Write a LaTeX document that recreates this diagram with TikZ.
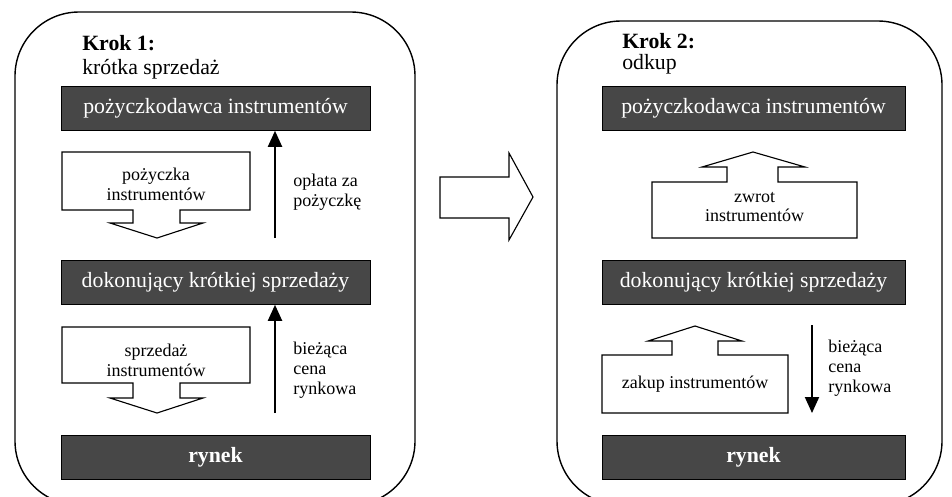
\documentclass[tikz,border=0pt]{standalone}
\usepackage{fontspec}
\setmainfont{Liberation Serif}
\usetikzlibrary{arrows.meta}
\definecolor{boxgray}{RGB}{71,71,71}
\newcommand{\partyfont}{\fontsize{15.5}{17}\selectfont}
\newcommand{\notefont}{\fontsize{12.8}{14}\selectfont}

\begin{document}
\begin{tikzpicture}[x = 0.025cm, y = -0.025cm,
    party/.style = {draw = black, fill = boxgray, text = white, font = \partyfont,
      minimum height = 1.1cm, inner sep = 0pt},
    flowtext/.style = {font = \notefont, align = center, inner sep = 0pt},
    note/.style = {font = \notefont, align = left, anchor = west, inner sep = 0pt},
    blockarrow/.style = {draw = black, fill = white, line width = 0.8pt},
    payment/.style = {line width = 1.4pt, -{Triangle[length = 4mm, width = 3.5mm]}}]
      \clip (0, 0) rectangle (952, 496);
      % frames
      \draw[line width = 1pt, rounded corners = 1.6cm] (15, 12) rectangle (415, 505);
      \draw[line width = 1pt, rounded corners = 1.6cm] (557, 21) rectangle (942, 505);
      % step 1: short sale
      \node[anchor = base west, font = \partyfont\bfseries, inner sep = 0pt] (step1) at (82, 50) {Krok 1:};
      \node[anchor = base west, font = \partyfont, inner sep = 0pt] (title1) at (82, 74) {krótka sprzedaż};
      \node[party, minimum width = 7.725cm] (lender1) at (215.5, 108.5) {pożyczkodawca instrumentów};
      \node[party, minimum width = 7.725cm] (seller1) at (215.5, 282.5) {dokonujący krótkiej sprzedaży};
      \node[party, minimum width = 7.725cm, font = \partyfont\bfseries] (market1) at (215.5, 457.5) {rynek};
      \draw[blockarrow] (62, 152) -- (250, 152) -- (250, 210) -- (180, 210) -- (180, 223)
        -- (203, 223) -- (157, 238) -- (110, 223) -- (133, 223) -- (133, 210) -- (62, 210) -- cycle;
      \node[flowtext] (loan1) at (156, 184) {pożyczka\\instrumentów};
      \draw[blockarrow] (62, 327) -- (250, 327) -- (250, 383) -- (180, 383) -- (180, 398)
        -- (203, 398) -- (157, 413) -- (110, 398) -- (133, 398) -- (133, 383) -- (62, 383) -- cycle;
      \node[flowtext] (sale1) at (156, 360) {sprzedaż\\instrumentów};
      \coordinate (feestart) at (275, 238);
      \draw[payment] (feestart) -- (feestart |- lender1.south);
      \node[note] (fee1) at (293, 192) {opłata za\\pożyczkę};
      \coordinate (pricestart) at (275, 413);
      \draw[payment] (pricestart) -- (pricestart |- seller1.south);
      \node[note] (price1) at (293, 370) {bieżąca\\cena\\rynkowa};
      % transition
      \draw[blockarrow] (440, 177) -- (509, 177) -- (509, 153) -- (533, 197) -- (509, 240)
        -- (509, 218) -- (440, 218) -- cycle;
      % step 2: buy back
      \node[anchor = base west, font = \partyfont\bfseries, inner sep = 0pt] (step2) at (622, 48) {Krok 2:};
      \node[anchor = base west, font = \partyfont, inner sep = 0pt] (title2) at (622, 69) {odkup};
      \node[party, minimum width = 7.575cm] (lender2) at (753.5, 108.5) {pożyczkodawca instrumentów};
      \node[party, minimum width = 7.575cm] (seller2) at (753.5, 282.5) {dokonujący krótkiej sprzedaży};
      \node[party, minimum width = 7.575cm, font = \partyfont\bfseries] (market2) at (753.5, 457.5) {rynek};
      \draw[blockarrow] (652, 238) -- (857, 238) -- (857, 182) -- (778, 182) -- (778, 167)
        -- (805, 167) -- (753, 152) -- (702, 167) -- (727, 167) -- (727, 182) -- (652, 182) -- cycle;
      \node[flowtext] (return2) at (754.5, 207) {zwrot\\instrumentów};
      \draw[blockarrow] (602, 413) -- (788, 413) -- (788, 355) -- (718, 355) -- (718, 341)
        -- (742, 341) -- (695, 326) -- (648, 341) -- (672, 341) -- (672, 355) -- (602, 355) -- cycle;
      \node[flowtext] (buy2) at (695, 384) {zakup instrumentów};
      \coordinate (paystart) at (812, 325);
      \coordinate (payend) at (812, 413);
      \draw[payment] (paystart) -- (payend);
      \node[note] (price2) at (828, 368) {bieżąca\\cena\\rynkowa};
    \end{tikzpicture}
\end{document}
